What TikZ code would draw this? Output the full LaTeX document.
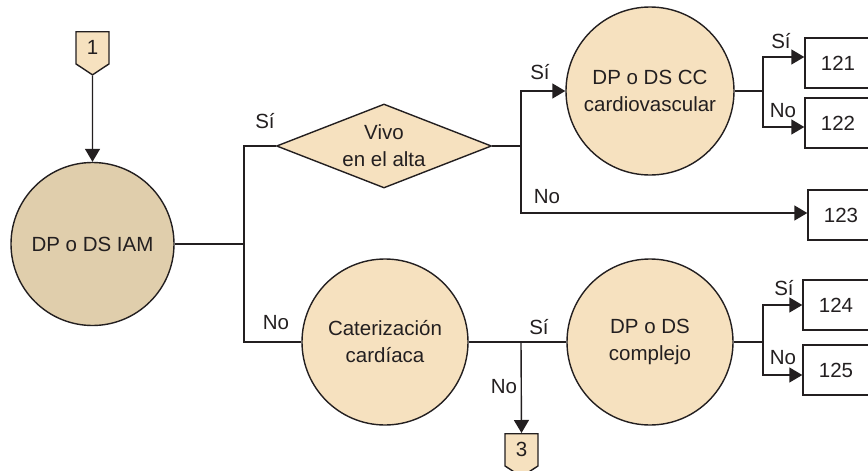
\documentclass[tikz,border=0pt]{standalone}
\usepackage{fontspec}
\setmainfont{Liberation Sans}
\usetikzlibrary{shapes.geometric,shapes.symbols,arrows.meta}
\definecolor{tanDark}{HTML}{E0CEAC}
\definecolor{tanLight}{HTML}{F6E1BF}
\definecolor{ink}{HTML}{231F20}

\begin{document}
\begin{tikzpicture}[x=1pt,y=-1pt,
  every node/.style={font=\fontsize{20.5}{27}\selectfont, text=ink},
  link/.style={draw=ink, line width=1.4pt},
  arr/.style={link, -{Triangle[length=13pt,width=15pt]}},
  fate/.style={circle, draw=ink, line width=1.4pt, fill=tanLight, minimum size=166pt, inner sep=0pt, align=center},
  decision/.style={diamond, draw=ink, line width=1.4pt, fill=tanLight, shape aspect=2.6, minimum width=215pt, minimum height=84pt, inner sep=0pt, align=center},
  endbox/.style={rectangle, draw=ink, line width=1.4pt, fill=white, minimum width=66pt, minimum height=50pt},
  jump/.style={signal, signal to=south, signal pointer angle=113, draw=ink, line width=1.4pt, fill=tanLight, minimum width=33pt, minimum height=36pt, inner sep=0pt}]
  \useasboundingbox (0,0) rectangle (868,471);

  \node[jump, anchor=north] (in1) at (92.5,31) {1};
  \node[fate, fill=tanDark, minimum size=163pt] (iam) at (92.5,244) {DP o DS IAM};
  \node[decision] (vivo) at (384,146) {Vivo\\en el alta};
  \node[fate, minimum size=168pt] (ccv) at (650,91) {DP o DS CC\\cardiovascular};
  \node[fate] (cat) at (385,342) {Caterización\\cardíaca};
  \node[fate] (comp) at (650,342) {DP o DS\\complejo};
  \node[jump, anchor=north] (in3) at (521.5,433) {3};

  \foreach \n/\x/\y in {121/838/63, 122/838/123, 123/841/215, 124/836/305, 125/836/370}{
    \node[endbox] (b\n) at (\x,\y) {\n};
  }
  \foreach \j/\x/\y in {j1/244/244, j2/521/146, j3/763/91, j4/521/342, j5/763/342}{
    \coordinate (\j) at (\x,\y);
  }

  \draw[arr] (in1) -- (iam);
  \draw[link] (iam.east) -- (j1);
  \draw[link] (j1) |- (vivo.west);
  \draw[link] (j1) |- (cat.west);
  \draw[link] (vivo.east) -- (j2);
  \draw[arr] (j2) |- (ccv.west);
  \draw[arr] (j2) |- ([yshift=2pt]b123.west);
  \draw[link] (ccv.east) -- (j3);
  \draw[arr] (j3) |- ([yshift=6pt]b121.west);
  \draw[arr] (j3) |- ([yshift=-4pt]b122.west);
  \draw[link] (cat) -- (comp);
  \draw[arr] (j4) -- (in3.north);
  \draw[link] (comp.east) -- (j5);
  \draw[arr] (j5) |- (b124.west);
  \draw[arr] (j5) |- ([yshift=-5pt]b125.west);

  \foreach \t/\x/\y [count=\k] in {Sí/265/121, No/276/323, Sí/540/72, No/547/197, Sí/781/41,
      No/783/111, Sí/539/327, No/504/387, Sí/784/288, No/783/358}{
    \node (lab\k) at (\x,\y) {\t};
  }
\end{tikzpicture}
\end{document}
